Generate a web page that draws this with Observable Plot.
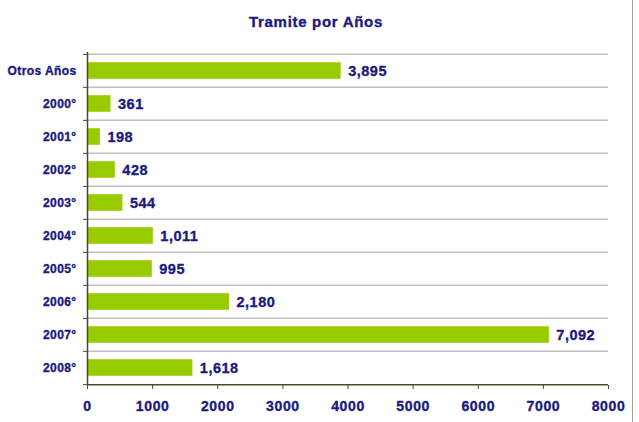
<!DOCTYPE html>
<html>
<head>
<meta charset="utf-8">
<script src="https://cdn.jsdelivr.net/npm/d3@7"></script>
<script src="https://cdn.jsdelivr.net/npm/@observablehq/plot@0.6"></script>
<style>
  body { margin: 0; background: #fff; }
  #wrap { position: relative; width: 639px; height: 422px; }
  #edge { position: absolute; left: 632px; top: 0; width: 1px; height: 422px; background: #a0a0a0; }
  svg text { font-family: "Liberation Sans", Arial, sans-serif; font-weight: bold; stroke: #1a1a80; stroke-width: 0.35px; }
  .ttl text { letter-spacing: 0.7px; }
  .ylab text { letter-spacing: 0.4px; }
  .vals text { letter-spacing: 0.5px; }
  .xlab text { letter-spacing: 0.6px; }
</style>
</head>
<body>
<div id="wrap"><div id="edge"></div></div>
<script>
const title = "Tramite por Años";
const categories = ["Otros Años", "2000°", "2001°", "2002°", "2003°", "2004°", "2005°", "2006°", "2007°", "2008°"];
const values = [3895, 361, 198, 428, 544, 1011, 995, 2180, 7092, 1618];
const xTicks = [0, 1000, 2000, 3000, 4000, 5000, 6000, 7000, 8000];

const data = categories.map((c, i) => ({ cat: c, value: values[i] }));
const navy = "#1a1a80";
const olive = "#4a4a2a";
const H = 422, mT = 52, mB = 37;
const half = (H - mT - mB) / categories.length / 2;

const chart = Plot.plot({
  width: 639,
  height: H,
  marginLeft: 87,
  marginRight: 31,
  marginTop: mT,
  marginBottom: mB,
  style: { fontFamily: "Liberation Sans, Arial, sans-serif", background: "transparent", overflow: "visible" },
  x: { domain: [0, 8000] },
  y: { domain: categories, padding: 0 },
  marks: [
    Plot.text([title], { frameAnchor: "top", dy: -36, dx: -32, fill: navy, fontSize: 15, fontWeight: "bold", className: "ttl" }),
    Plot.ruleY(categories, { y: d => d, x1: 0, x2: 8000, dy: -half, stroke: "#c0c0c0", strokeWidth: 1.5 }),
    Plot.barX(data, { y: "cat", x: "value", fill: "#99cc00", insetTop: 8.2, insetBottom: 8.2 }),
    Plot.text(data, { y: "cat", x: "value", text: d => d3.format(",")(d.value), textAnchor: "start", dx: 7, fill: navy, fontSize: 14.5, fontWeight: "bold", className: "vals" }),
    Plot.ruleY([categories[categories.length - 1]], { y: d => d, x1: 0, x2: 8000, dy: half, stroke: olive, strokeWidth: 1.5 }),
    Plot.ruleX([0], { stroke: olive, strokeWidth: 1.5 }),
    Plot.axisY({ ticks: categories, tickSize: 4, text: null, dy: -half, stroke: olive, label: null }),
    Plot.axisY({ ticks: [categories[categories.length - 1]], tickSize: 4, text: null, dy: half, stroke: olive, label: null }),
    Plot.axisY({ ticks: categories, tickSize: 0, tickPadding: 11, fill: navy, fontSize: 12, fontWeight: "bold", label: null, className: "ylab" }),
    Plot.axisX({ ticks: xTicks, tickSize: 4, tickPadding: 12, stroke: olive, fill: navy, fontSize: 14, fontWeight: "bold", tickFormat: d => String(d), label: null, className: "xlab" })
  ]
});
document.getElementById("wrap").appendChild(chart);
</script>
</body>
</html>
